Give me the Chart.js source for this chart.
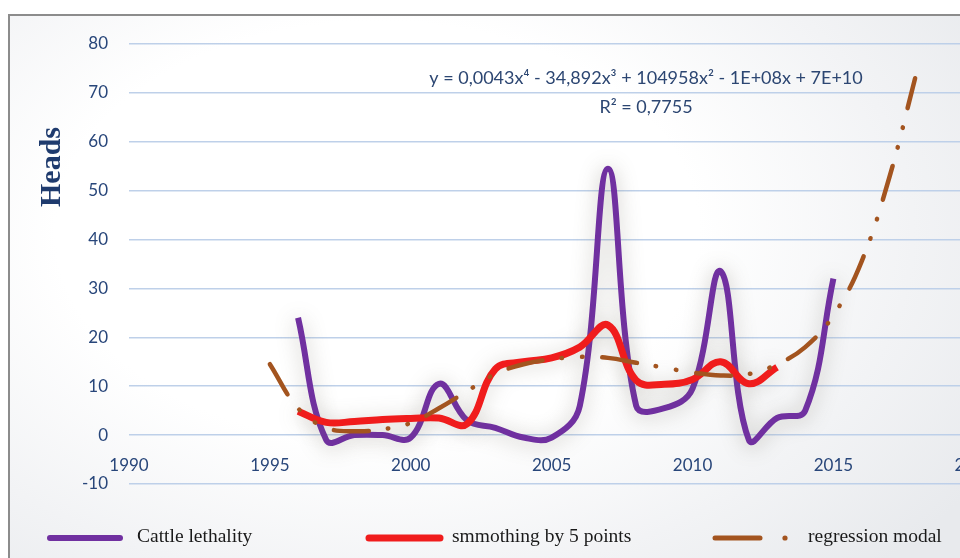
<!DOCTYPE html>
<html>
<head>
<meta charset="utf-8">
<script src="https://cdn.jsdelivr.net/npm/chart.js@4.4.1/dist/chart.umd.min.js"></script>
<style>
  html, body { margin: 0; padding: 0; background: #ffffff; }
  #wrap { position: relative; width: 960px; height: 558px; overflow: hidden; background: #ffffff; }
  #frame {
    position: absolute; left: 8px; top: 14px; width: 1020px; height: 600px;
    border-top: 2px solid #8c8c8c; border-left: 2px solid #8c8c8c;
    background: radial-gradient(ellipse 70% 78% at 36% 36%, #ffffff 0%, #ffffff 45%, #f2f3f5 75%, #e8eaed 100%);
  }
  canvas { position: absolute; left: 0; top: 0; }
</style>
</head>
<body>
<div id="wrap">
  <div id="frame"></div>
  <canvas id="chart" width="1014" height="558"></canvas>
</div>
<script>
// Cattle lethality per year (heads)
const years = [1996, 1997, 1998, 1999, 2000, 2001, 2002, 2003, 2004, 2005,
               2006, 2007, 2008, 2009, 2010, 2011, 2012, 2013, 2014, 2015];
const lethality = [24, -1, 0, 0, -0.5, 10.5, 3, 1.5, -0.5, -0.5,
                   6, 54.5, 6, 5.5, 9.5, 33.5, -1, 3.5, 5, 32];

// Moving average over 5 points
const smoothYears = [1996, 1997, 1998, 1999, 2000, 2001, 2002, 2003, 2004,
                     2005, 2006, 2007, 2008, 2009, 2010, 2011, 2012, 2013];
const smoothing = [4.9, 2.6, 2.8, 3.2, 3.4, 3.5, 2.3, 13.5, 15,
                   15.8, 18, 22.5, 11.2, 10.4, 11.4, 15, 10.5, 13.9];

// 4th-order polynomial trend, sampled along the curve
const regYears = [1995, 1996, 1997, 1998, 1999, 2000, 2001, 2002, 2003, 2004, 2005, 2006,
                  2007, 2008, 2009, 2010, 2011, 2012, 2013, 2014, 2015, 2016, 2017, 2017.9];
const regression = [14.5, 5.5, 1.5, 0.8, 1.2, 2.5, 5.5, 9, 12.5, 14.5, 15.5, 16,
                    15.8, 14.8, 13.8, 12.8, 12.2, 12.5, 14.5, 18, 24.5, 35.5, 53, 73];

const yTicks = [-10, 0, 10, 20, 30, 40, 50, 60, 70, 80];
const xTicks = [1990, 1995, 2000, 2005, 2010, 2015, 2020];

const seriesNames = ['Cattle lethality', 'smmothing by 5 points', 'regression modal'];
const trendEquation = 'y = 0,0043x\u2074 - 34,892x\u00B3 + 104958x\u00B2 - 1E+08x + 7E+10';
const trendR2 = 'R\u00B2 = 0,7755';
const yTitle = 'Heads';

const PURPLE = '#7030a0';
const RED = '#f01c1c';
const BROWN = '#a3541f';
const TICK_COLOR = '#28467a';
const GRID_COLOR = 'rgba(186, 206, 232, 0.95)';

const toPoints = (xs, ys) => xs.map((x, i) => ({ x: x, y: ys[i] }));

// soft grey halo under the thick lines
const haloPlugin = {
  id: 'halo',
  beforeDatasetDraw(chart, args) {
    const ds = chart.data.datasets[args.index];
    if (!ds.halo) return;
    const ctx = chart.ctx;
    ctx.save();
    ctx.shadowColor = ds.halo;
    ctx.shadowBlur = 20;
    ctx.shadowOffsetX = 0;
    ctx.shadowOffsetY = 2;
  },
  afterDatasetDraw(chart, args) {
    const ds = chart.data.datasets[args.index];
    if (!ds.halo) return;
    chart.ctx.restore();
  }
};

// axis title, trend equation and the legend row
const textPlugin = {
  id: 'texts',
  afterDraw(chart) {
    const ctx = chart.ctx;
    ctx.save();

    // vertical axis title
    ctx.save();
    ctx.translate(52, 167);
    ctx.rotate(-Math.PI / 2);
    ctx.font = 'bold 30px "Liberation Serif"';
    ctx.fillStyle = '#1f3b6e';
    ctx.textAlign = 'center';
    ctx.textBaseline = 'middle';
    ctx.fillText(yTitle, 0, 0);
    ctx.restore();

    // trendline equation
    ctx.font = '18px Lato, "Noto Sans"';
    ctx.fillStyle = '#2c4672';
    ctx.textAlign = 'center';
    ctx.textBaseline = 'middle';
    ctx.fillText(trendEquation, 646, 78);
    ctx.fillText(trendR2, 646, 107);

    // legend
    const ly = 538;
    ctx.lineCap = 'round';
    ctx.strokeStyle = PURPLE; ctx.lineWidth = 6;
    ctx.beginPath(); ctx.moveTo(50, ly); ctx.lineTo(120, ly); ctx.stroke();
    ctx.strokeStyle = RED; ctx.lineWidth = 7;
    ctx.beginPath(); ctx.moveTo(369, ly); ctx.lineTo(440, ly); ctx.stroke();
    ctx.strokeStyle = BROWN; ctx.lineWidth = 5;
    ctx.beginPath(); ctx.moveTo(715, ly); ctx.lineTo(760, ly); ctx.stroke();
    ctx.fillStyle = BROWN;
    ctx.beginPath(); ctx.arc(785, ly, 2.6, 0, Math.PI * 2); ctx.fill();

    ctx.font = '19.5px "Liberation Serif"';
    ctx.fillStyle = '#1a1a1a';
    ctx.textAlign = 'left';
    ctx.textBaseline = 'middle';
    ctx.fillText(seriesNames[0], 137, ly - 1);
    ctx.fillText(seriesNames[1], 452, ly - 1);
    ctx.fillText(seriesNames[2], 808, ly - 1);
    ctx.restore();
  }
};

function build() {
  new Chart(document.getElementById('chart'), {
    type: 'line',
    data: {
      datasets: [
        {
          label: seriesNames[0],
          data: toPoints(years, lethality),
          borderColor: PURPLE,
          borderWidth: 6,
          tension: 0.4,
          pointRadius: 0,
          order: 3,
          halo: 'rgba(120, 115, 100, 0.45)'
        },
        {
          label: seriesNames[1],
          data: toPoints(smoothYears, smoothing),
          borderColor: RED,
          borderWidth: 7,
          tension: 0.4,
          pointRadius: 0,
          order: 2,
          halo: 'rgba(120, 115, 100, 0.35)'
        },
        {
          label: seriesNames[2],
          data: toPoints(regYears, regression),
          borderColor: BROWN,
          borderWidth: 4.5,
          borderDash: [35, 19, 0.5, 20, 0.5, 20],
          borderCapStyle: 'round',
          tension: 0.4,
          pointRadius: 0,
          order: 1
        }
      ]
    },
    options: {
      responsive: false,
      animation: false,
      devicePixelRatio: 1,
      layout: { padding: { left: 0, top: 44, right: 25, bottom: 74 } },
      plugins: { legend: { display: false }, tooltip: { enabled: false } },
      scales: {
        x: {
          type: 'linear',
          min: 1990,
          max: 2020,
          position: { y: 0 },
          afterBuildTicks: (scale) => { scale.ticks = xTicks.map(v => ({ value: v })); },
          ticks: {
            callback: (v) => String(v),
            font: { family: 'Lato', size: 17 },
            color: TICK_COLOR,
            padding: 20,
            maxRotation: 0
          },
          grid: { display: false, drawTicks: false },
          border: { display: false }
        },
        y: {
          min: -10,
          max: 80,
          afterBuildTicks: (scale) => { scale.ticks = yTicks.map(v => ({ value: v })); },
          afterFit: (scale) => { scale.width = 129; },
          ticks: {
            font: { family: 'Lato', size: 17 },
            color: TICK_COLOR,
            padding: 21
          },
          grid: { color: GRID_COLOR, lineWidth: 1.5, drawTicks: false },
          border: { display: false }
        }
      }
    },
    plugins: [haloPlugin, textPlugin]
  });
}

Promise.all([
  document.fonts.load('17px Lato'),
  document.fonts.load('bold 30px "Liberation Serif"'),
  document.fonts.load('19.5px "Liberation Serif"'),
  document.fonts.load('18px "Noto Sans"')
]).then(build, build);
</script>
</body>
</html>
